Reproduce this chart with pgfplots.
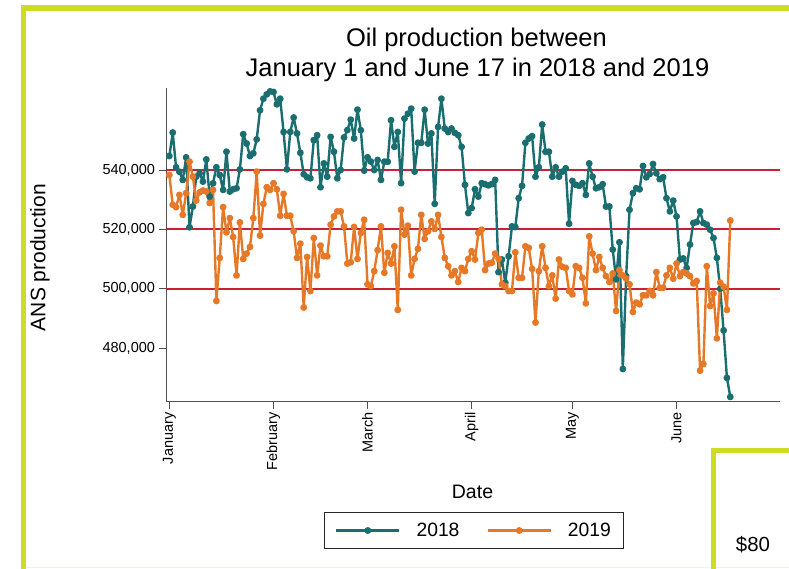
\documentclass[border=0pt]{standalone}
\usepackage{fontspec}
\setmainfont{Liberation Sans}
\usepackage{pgfplots}
\usepackage{pgfplotstable}
\pgfplotsset{compat=1.18}
\definecolor{framegreen}{RGB}{204,221,34}
\definecolor{framepale}{RGB}{240,246,205}
\definecolor{teal18}{RGB}{26,110,112}
\definecolor{orange19}{RGB}{230,121,40}
\definecolor{gridred}{RGB}{200,32,52}
\definecolor{axgray}{RGB}{80,80,80}

\pgfplotstableread{
day v18 v19
1 544700 538300
2 552600 528300
3 540900 527500
4 539400 531600
5 536650 524900
6 544250 532200
7 520700 542800
8 527700 537750
9 537750 529700
10 538900 532450
11 536100 533100
12 543550 532750
13 531050 528850
14 535500 533300
15 540900 495900
16 538300 510400
17 533300 527500
18 546150 519000
19 532750 523800
20 533500 517450
21 533850 504500
22 540200 522350
23 552050 510050
24 548900 511850
25 544700 514100
26 545600 523800
27 550300 539450
28 560100 517900
29 564000 528600
30 565450 534200
31 566450 533300
32 566250 535550
33 562100 533500
34 564000 524600
35 552800 531950
36 540200 524600
37 552800 524600
38 557650 519350
39 552300 510400
40 545800 515200
41 538550 493700
42 537550 510700
43 537200 499250
44 550050 517100
45 551700 504500
46 534200 514550
47 542200 510950
48 537750 510950
49 551150 521600
50 546150 524350
51 537200 526050
52 540000 526050
53 550950 521000
54 553400 508500
55 556950 508950
56 550600 520800
57 560300 510050
58 553400 518800
59 539800 523250
60 544250 501500
61 542800 500900
62 540000 505950
63 543350 513000
64 536650 521000
65 542800 505400
66 542800 512100
67 556750 508500
68 547800 514300
69 552800 492900
70 535550 526600
71 557300 518250
72 558950 521250
73 560650 504500
74 539450 510050
75 549150 513450
76 549150 524900
77 560300 516800
78 548900 519350
79 552300 522700
80 528600 520150
81 554500 524900
82 564000 517450
83 553950 510400
84 552800 507600
85 553950 504500
86 552500 505950
87 551700 502300
88 547800 507050
89 535000 505950
90 525500 510050
91 527150 512650
92 533500 509850
93 531050 518800
94 535550 519900
95 535200 506300
96 534800 508500
97 535250 508750
98 536650 511850
99 505600 510050
100 509850 501500
101 502050 500900
102 510950 499250
103 521000 499250
104 520800 512300
105 530500 503700
106 534650 503700
107 549150 514300
108 550600 513750
109 551400 506700
110 537750 488650
111 540900 505950
112 555300 514300
113 546150 507050
114 546150 500900
115 537750 504500
116 540900 496700
117 537750 509850
118 539450 507400
119 540550 507050
120 521900 499250
121 536300 498100
122 535000 507600
123 534650 507050
124 535550 503700
125 531600 495100
126 542200 517650
127 537750 511850
128 533850 506300
129 534200 510700
130 535200 507050
131 527700 504250
132 527700 502300
133 513200 505150
134 503150 492550
135 515650 506300
136 473000 504500
137 504250 503400
138 526600 501500
139 532200 492200
140 533850 495350
141 533500 494800
142 541350 497800
143 537550 497800
144 538650 499250
145 542000 497800
146 538900 505600
147 536900 500350
148 537550 500350
149 530500 504500
150 526050 507050
151 529700 503400
152 524350 508500
153 509850 504250
154 510200 505600
155 507050 505150
156 514900 504250
157 522150 501800
158 522500 502600
159 526050 472450
160 522150 474700
161 521600 507600
162 519900 494200
163 517100 498450
164 510400 483300
165 500000 502050
166 486000 500700
167 470000 492900
168 463600 523000
}\oil

\begin{document}
\begin{tikzpicture}
\useasboundingbox (0pt,0pt) rectangle (789pt,569pt);
% decorative frame
\draw[framepale, line width=1.5pt] (26pt,1.5pt) -- (789pt,1.5pt);
\draw[framegreen, line width=5.5pt] (23.3pt,0pt) -- (23.3pt,561pt) -- (789pt,561pt);
\draw[framegreen, line width=5pt] (713.3pt,0pt) -- (713.3pt,118.5pt) -- (789pt,118.5pt);
\node[font=\fontsize{20.4}{24}\selectfont, anchor=base, inner sep=0pt] at (753pt,17.5pt) {\$80};
% titles
\node[font=\fontsize{25.5}{30}\selectfont, anchor=base, inner sep=0pt] at (476.5pt,522pt) {Oil production between};
\node[font=\fontsize{25.5}{30}\selectfont, anchor=base, inner sep=0pt] at (477.5pt,492pt) {January 1 and June 17 in 2018 and 2019};
\node[font=\fontsize{21}{25}\selectfont, anchor=base, rotate=90, inner sep=0pt] at (45.3pt,311.5pt) {ANS production};
\node[font=\fontsize{19.5}{23}\selectfont, anchor=base, inner sep=0pt] at (472.5pt,70pt) {Date};
\begin{axis}[
  at={(166pt,167.5pt)}, anchor=south west,
  scale only axis, width=614pt, height=313.5pt,
  xmin=0, xmax=182.8, ymin=462050, ymax=567600,
  axis x line=bottom, axis y line=left,
  axis line style={axgray, line width=0.9pt, -},
  tick align=outside, major tick length=7.5pt,
  tick style={axgray, line width=0.9pt},
  xtick={1,32,60,91,121,152},
  xticklabels={January,February,March,April,May,June},
  x tick label style={rotate=90, anchor=east, font=\fontsize{14.5}{17}\selectfont},
  ytick={480000,500000,520000,540000},
  yticklabels={{480,000},{500,000},{520,000},{540,000}},
  y tick label style={font=\fontsize{14.5}{17}\selectfont},
  scaled y ticks=false,
  extra y ticks={500000,520000,540000},
  extra y tick labels={},
  extra y tick style={grid=major, major tick length=0pt, major grid style={gridred, line width=2pt}},
  legend columns=2,
  legend style={at={(0.5016,-0.4115)}, anchor=center, draw=black!85, line width=0.8pt,
    inner xsep=11pt, inner ysep=8.5pt,
    font=\fontsize{19.3}{23}\selectfont,
    /tikz/every odd column/.append style={column sep=14pt},
    /tikz/every even column/.append style={column sep=25pt}},
  legend image code/.code={\draw[mark repeat=2,mark phase=2,#1] plot coordinates {(0pt,0pt) (31.5pt,0pt) (63pt,0pt)};},
]
\addplot[teal18, line width=2.4pt, line join=round, mark=*, mark size=2.2pt, mark options={solid}] table[x=day, y=v18] {\oil};
\addlegendentry{2018}
\addplot[orange19, line width=2.4pt, line join=round, mark=*, mark size=2.2pt, mark options={solid}] table[x=day, y=v19] {\oil};
\addlegendentry{2019}
\end{axis}
\end{tikzpicture}
\end{document}
